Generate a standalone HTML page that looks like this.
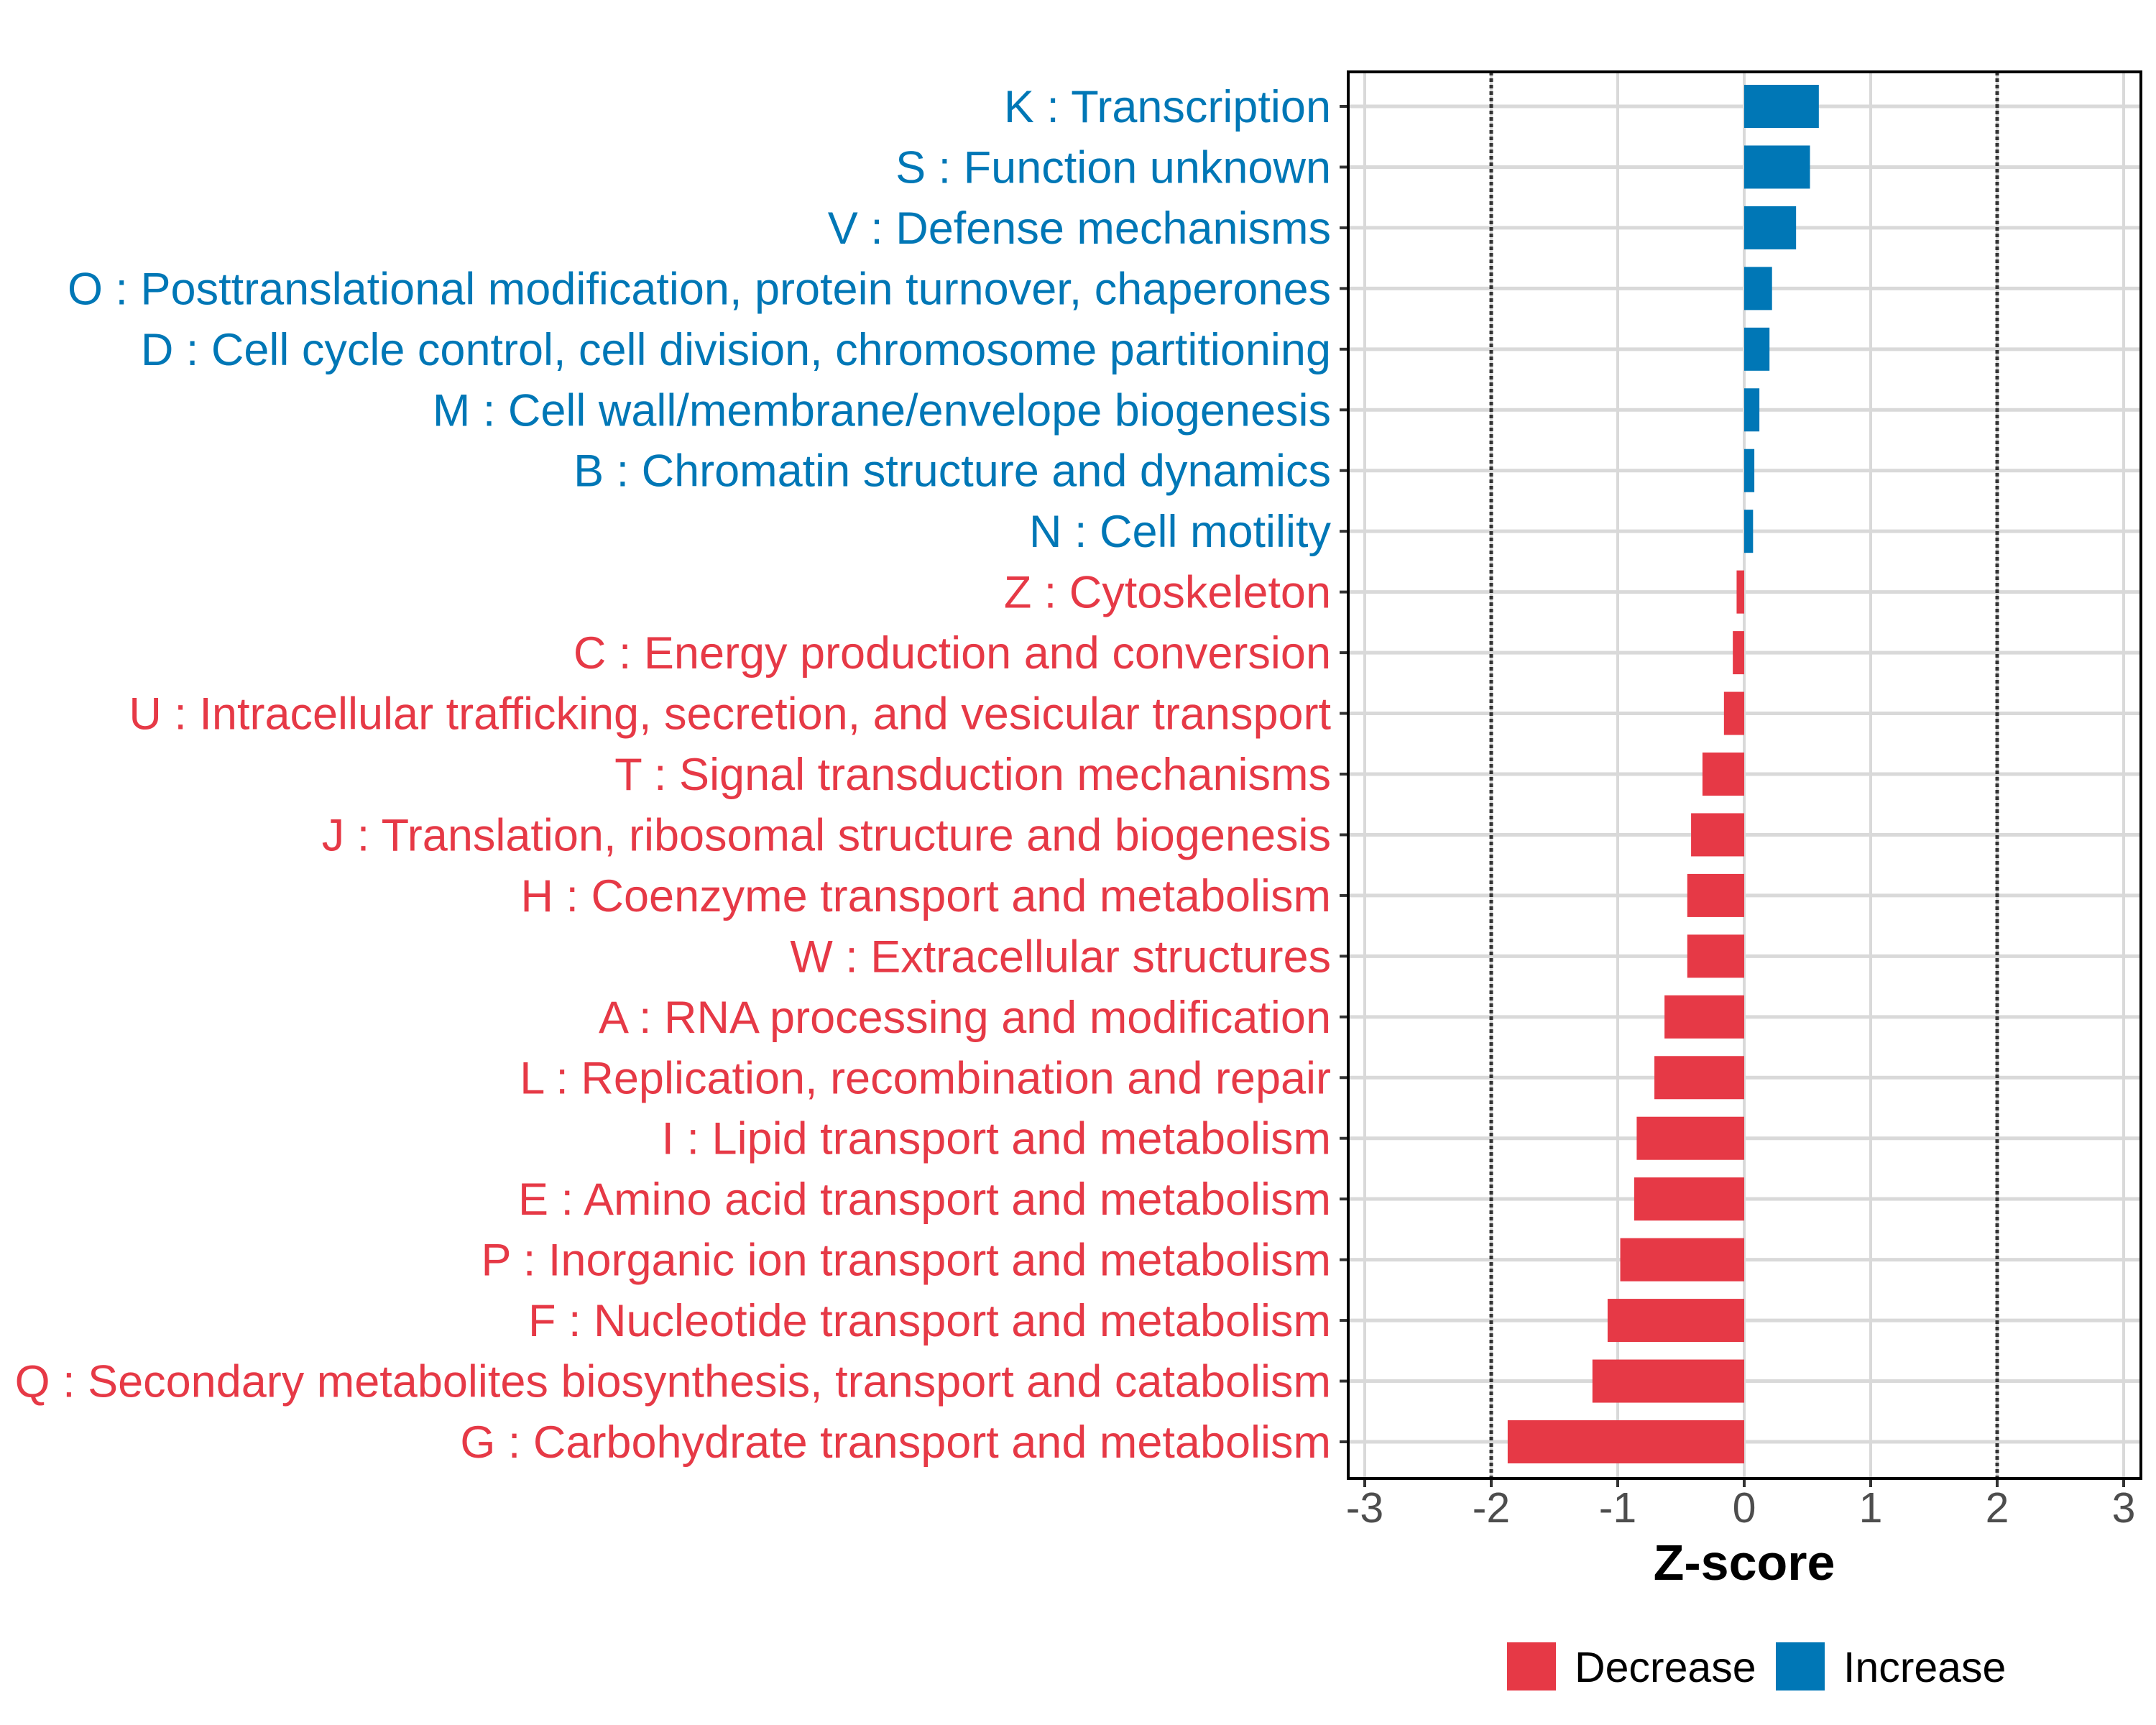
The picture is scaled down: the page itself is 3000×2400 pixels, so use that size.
<!DOCTYPE html>
<html><head><meta charset="utf-8"><style>
html,body{margin:0;padding:0;background:#fff;}
svg{display:block;font-family:"Liberation Sans",Arial,sans-serif;}
</style></head><body>
<svg id="chart" width="3000" height="2400" viewBox="0 0 3000 2400" xmlns="http://www.w3.org/2000/svg">
<rect x="0" y="0" width="3000" height="2400" fill="#fff"/>
<g id="grid"></g>
<g id="bars"></g>
<g id="ylabels"></g>
<g id="xaxis"></g>
<rect x="1876" y="100" width="1103" height="1957" fill="none" stroke="#000" stroke-width="4"/>
<text x="2427" y="2198" text-anchor="middle" font-size="70" font-weight="bold" fill="#000">Z-score</text>
<g>
<rect x="2097" y="2285" width="68" height="67" fill="#E63946"/>
<text x="2191" y="2340" font-size="59" fill="#000">Decrease</text>
<rect x="2471" y="2285" width="68" height="67" fill="#0077B6"/>
<text x="2565" y="2340" font-size="59" fill="#000">Increase</text>
</g>
</svg>
<script>
const categories = [
"K : Transcription","S : Function unknown","V : Defense mechanisms",
"O : Posttranslational modification, protein turnover, chaperones",
"D : Cell cycle control, cell division, chromosome partitioning",
"M : Cell wall/membrane/envelope biogenesis","B : Chromatin structure and dynamics",
"N : Cell motility","Z : Cytoskeleton","C : Energy production and conversion",
"U : Intracellular trafficking, secretion, and vesicular transport",
"T : Signal transduction mechanisms","J : Translation, ribosomal structure and biogenesis",
"H : Coenzyme transport and metabolism","W : Extracellular structures",
"A : RNA processing and modification","L : Replication, recombination and repair",
"I : Lipid transport and metabolism","E : Amino acid transport and metabolism",
"P : Inorganic ion transport and metabolism","F : Nucleotide transport and metabolism",
"Q : Secondary metabolites biosynthesis, transport and catabolism",
"G : Carbohydrate transport and metabolism"];
const zscores = [0.59,0.52,0.41,0.22,0.20,0.12,0.08,0.07,-0.06,-0.09,-0.16,-0.33,-0.42,-0.45,-0.45,-0.63,-0.71,-0.85,-0.87,-0.98,-1.08,-1.20,-1.87];
const xTicks = [-3,-2,-1,0,1,2,3];
const xTickLabels = ["-3","-2","-1","0","1","2","3"];
const thresholds = [-2,2];

const NS="http://www.w3.org/2000/svg";
const PL=1876,PR=2979,PT=100,PB=2057;
function xs(v){return 2427+v*176;}
function ys(i){return 148+i*(2006-148)/(categories.length-1);}
function mk(tag,attrs,parent){const e=document.createElementNS(NS,tag);for(const k in attrs)e.setAttribute(k,attrs[k]);parent.appendChild(e);return e;}
const grid=document.getElementById('grid'),bars=document.getElementById('bars'),yl=document.getElementById('ylabels'),xa=document.getElementById('xaxis');
xTicks.forEach((t,i)=>{
  const l=mk('line',{x1:xs(t),x2:xs(t),y1:PT,y2:PB,stroke:'#d9d9d9','stroke-width':4},grid);
  
  
  const tk=mk('line',{x1:xs(t),x2:xs(t),y1:PB,y2:PB+12,stroke:'#333','stroke-width':4},xa);
  
  
  const tx=mk('text',{x:xs(t),y:2118,'text-anchor':'middle','font-size':59,fill:'#4d4d4d'},xa);
  tx.textContent=xTickLabels[i];
  
  
});
categories.forEach((c,i)=>{
  const y=ys(i);
  const g=mk('line',{x1:PL,x2:PR,y1:y,y2:y,stroke:'#d9d9d9','stroke-width':5},grid);
  
  
  const tk=mk('line',{x1:PL-12,x2:PL,y1:y,y2:y,stroke:'#333','stroke-width':4},yl);
  
  
  const v=zscores[i];
  const col=v>=0?'#0077B6':'#E63946';
  const x0=Math.min(xs(0),xs(v)),w=Math.abs(xs(v)-xs(0));
  const b=mk('rect',{x:x0,y:y-30,width:w,height:60,fill:col},bars);
  
  
  const t=mk('text',{x:1852,y:y+22,'text-anchor':'end','font-size':63,fill:col},yl);
  t.textContent=c;
  
  
});
thresholds.forEach(t=>{
  const l=mk('line',{x1:xs(t),x2:xs(t),y1:PT,y2:PB,stroke:'#333','stroke-width':5,'stroke-dasharray':'5 4'},grid);
  
  
});
</script>
</body></html>
